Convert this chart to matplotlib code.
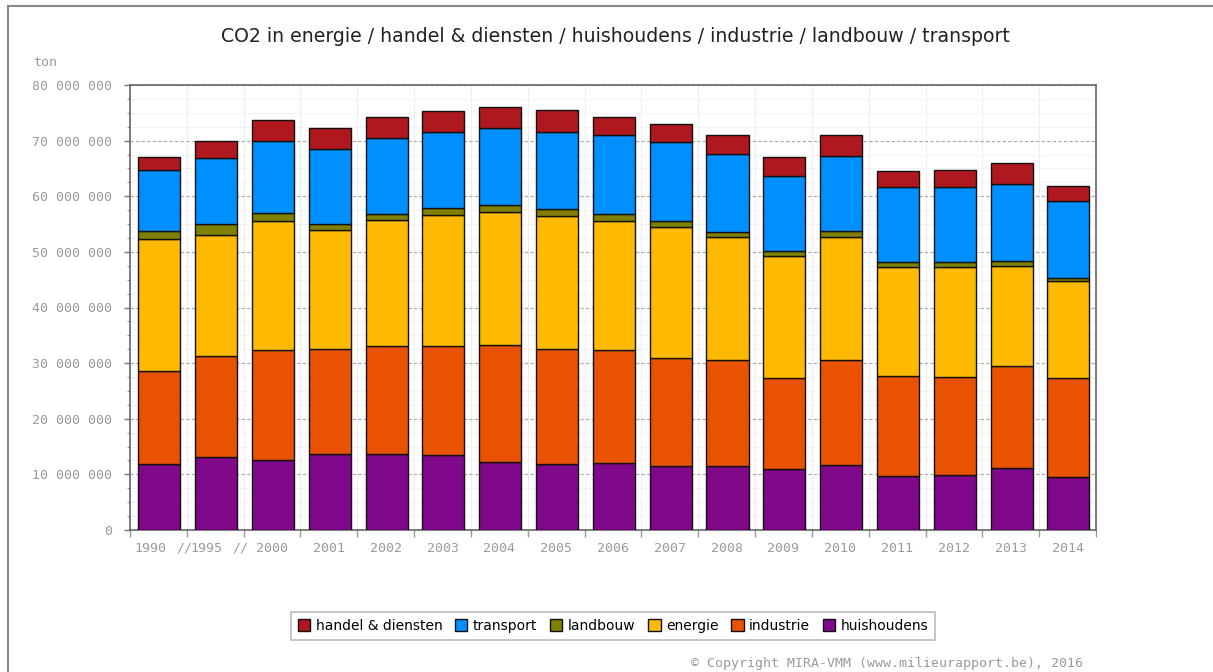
import numpy as np
import matplotlib
matplotlib.use('Agg')
import matplotlib.pyplot as plt
import matplotlib.transforms as mtransforms
from matplotlib.lines import Line2D
from matplotlib.ticker import FuncFormatter, MultipleLocator

jaren = ['1990', '1995', '2000', '2001', '2002', '2003', '2004', '2005', '2006',
         '2007', '2008', '2009', '2010', '2011', '2012', '2013', '2014']

# waarden in miljoen ton CO2
huishoudens = [11.9, 13.2, 12.5, 13.6, 13.6, 13.4, 12.3, 11.9, 12.1,
               11.5, 11.5, 11.0, 11.6, 9.7, 9.9, 11.2, 9.5]
industrie = [16.7, 18.1, 19.9, 19.0, 19.4, 19.6, 20.9, 20.6, 20.2,
             19.5, 19.0, 16.3, 18.9, 18.0, 17.6, 18.2, 17.8]
energie = [23.7, 21.8, 23.1, 21.4, 22.8, 23.6, 23.9, 23.9, 23.3,
           23.5, 22.1, 21.9, 22.2, 19.6, 19.7, 18.1, 17.4]
landbouw = [1.5, 1.9, 1.4, 1.1, 1.0, 1.3, 1.3, 1.3, 1.2,
            1.0, 0.9, 0.9, 1.1, 0.9, 0.9, 0.9, 0.6]
transport = [10.9, 11.8, 13.1, 13.4, 13.6, 13.6, 13.8, 13.8, 14.2,
             14.3, 14.1, 13.5, 13.4, 13.4, 13.5, 13.8, 13.9]
handel = [2.3, 3.2, 3.7, 3.7, 3.8, 3.8, 3.9, 4.0, 3.3,
          3.2, 3.5, 3.4, 3.9, 3.0, 3.1, 3.7, 2.7]

reeksen = [
    ('huishoudens', huishoudens, '#80088a'),
    ('industrie', industrie, '#e85200'),
    ('energie', energie, '#ffba00'),
    ('landbouw', landbouw, '#808000'),
    ('transport', transport, '#008fff'),
    ('handel & diensten', handel, '#b0181f'),
]

grijs = '#9a9a9a'
mono = 'DejaVu Sans Mono'

fig = plt.figure(figsize=(12.13, 6.72), dpi=100)
ax = fig.add_axes([130 / 1213, 142 / 672, 966 / 1213, 445 / 672])

x = np.arange(len(jaren))
bodem = np.zeros(len(jaren))
handles = {}
for naam, waarden, kleur in reeksen:
    w = np.array(waarden) * 1e6
    b = ax.bar(x + 0.015, w, width=0.74, bottom=bodem, color=kleur,
               edgecolor='#111111', linewidth=1.0, label=naam, zorder=3)
    handles[naam] = b
    bodem += w

ax.set_xlim(-0.5, len(jaren) - 0.5)
ax.set_ylim(0, 80e6)

# grid
ax.yaxis.set_major_locator(MultipleLocator(10e6))
ax.yaxis.set_minor_locator(MultipleLocator(2.5e6))
ax.grid(axis='y', which='major', color='#a8a8a8', linestyle=(0, (3, 2)), linewidth=0.8, zorder=1)
ax.grid(axis='y', which='minor', color='#f3f3f3', linestyle='-', linewidth=0.8, zorder=0)
ax.set_xticks(np.arange(len(jaren) + 1) - 0.5, minor=True)
ax.grid(axis='x', which='minor', color='#eeeeee', linestyle='-', linewidth=0.8, zorder=0)

ax.yaxis.set_major_formatter(FuncFormatter(lambda v, p: f'{int(v):,}'.replace(',', ' ')))
ax.tick_params(axis='y', which='major', length=4, width=1, color='#777777',
               labelsize=9.5, labelcolor=grijs, pad=9)
ax.tick_params(axis='y', which='minor', length=2, width=0.8, color='#999999')
for lbl in ax.get_yticklabels():
    lbl.set_fontfamily(mono)

ax.set_xticks(x)
ax.set_xticklabels(jaren, fontfamily=mono, fontsize=9.5, color=grijs)
ax.tick_params(axis='x', which='major', length=0, pad=9)
ax.tick_params(axis='x', which='minor', length=5, width=1, color='#999999')

# eerste labels iets naar links zoals in het origineel
for lbl, dx in zip(ax.get_xticklabels()[:2], [-8, -9]):
    lbl.set_transform(lbl.get_transform() + mtransforms.ScaledTranslation(dx / 100, 0, fig.dpi_scale_trans))

# breekstreepjes op de as
trans = mtransforms.blended_transform_factory(ax.transData, ax.transAxes)
for xb in [0.45, 1.45]:
    ax.text(xb, -0.0415, '//', transform=trans, ha='center', va='center',
            fontfamily=mono, fontsize=9.5, color=grijs)

for s in ax.spines.values():
    s.set_color('#666666')
    s.set_linewidth(1.2)

fig.text(615 / 1213, 1 - 37 / 672, 'CO2 in energie / handel & diensten / huishoudens / industrie / landbouw / transport',
         ha='center', va='center', fontsize=13.6, color='#222222')
fig.text(33 / 1213, 1 - 62 / 672, 'ton', ha='left', va='center',
         fontfamily=mono, fontsize=9.5, color=grijs)

volgorde = ['handel & diensten', 'transport', 'landbouw', 'energie', 'industrie', 'huishoudens']
leg = fig.legend([handles[n] for n in volgorde], volgorde, loc='center', ncol=6,
                 bbox_to_anchor=(613 / 1213, 1 - 626 / 672), fontsize=10,
                 frameon=True, fancybox=False, edgecolor='#aaaaaa',
                 handlelength=0.9, handleheight=0.9, handletextpad=0.4,
                 columnspacing=0.9, borderpad=0.5)
leg.get_frame().set_linewidth(1.2)

fig.text(1083 / 1213, 1 - 663 / 672, '\u00a9 Copyright MIRA-VMM (www.milieurapport.be), 2016',
         ha='right', va='center', fontfamily=mono, fontsize=9.5, color=grijs)

# kader rond de afbeelding
fig.add_artist(Line2D([8 / 1213, 1], [1 - 6 / 672, 1 - 6 / 672], color='#888888', linewidth=1.5))
fig.add_artist(Line2D([8 / 1213, 8 / 1213], [0, 1 - 6 / 672], color='#888888', linewidth=1.5))

fig.savefig('out.png', dpi=100)
